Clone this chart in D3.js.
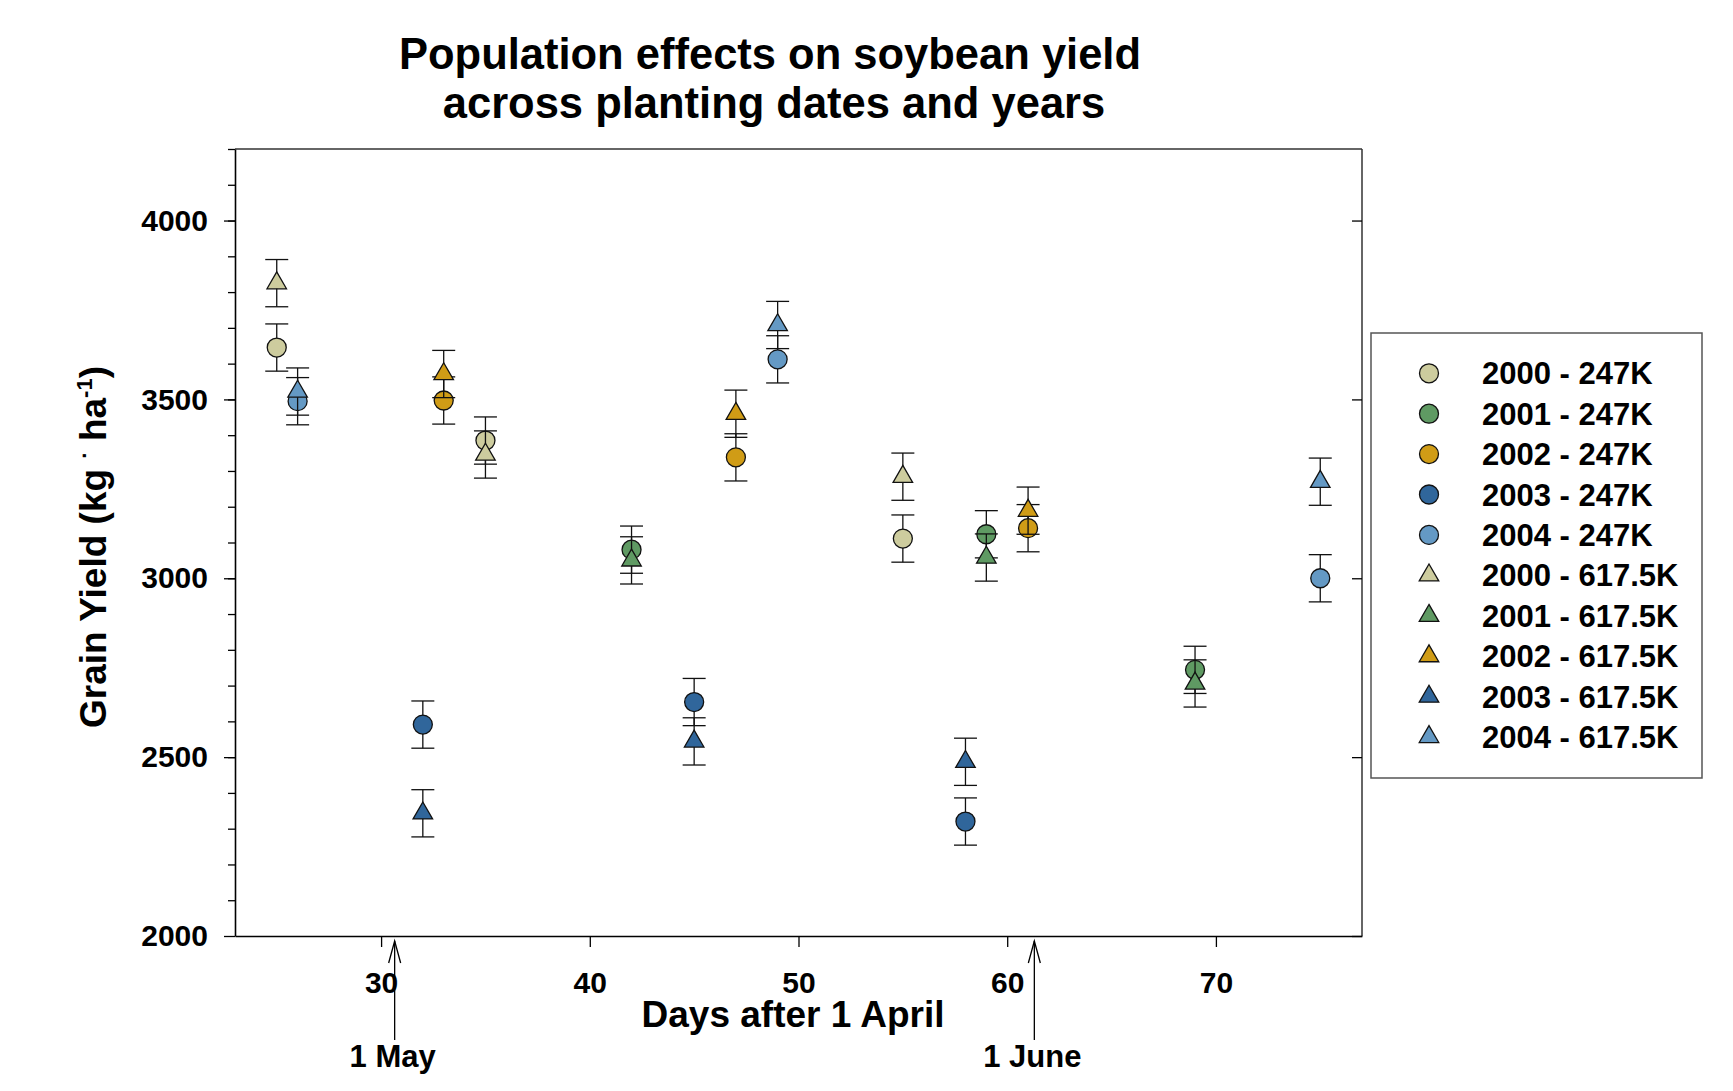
<!DOCTYPE html>
<html>
<head>
<meta charset="utf-8">
<script src="https://cdn.jsdelivr.net/npm/d3@7"></script>
<style>
  body { margin: 0; background: #fff; }
  svg text { font-family: "Liberation Sans", Arial, sans-serif; font-weight: bold; fill: #000; }
</style>
</head>
<body>
<div id="chart"></div>
<script>
// data
const years = ["2000", "2001", "2002", "2003", "2004"];
const populations = ["247K", "617.5K"];
const yearColors = ["#cdcc9e", "#5f9a63", "#d09c16", "#30669b", "#6499c4"];

// planting dates (days after 1 April) for each year
const plantDays = [
  [25, 35, 55],
  [42, 59, 69],
  [33, 47, 61],
  [32, 45, 58],
  [26, 49, 75]
];
// grain yield, kg/ha
const yield247 = [
  [3645, 3385, 3111],
  [3080, 3123, 2744],
  [3497, 3338, 3140],
  [2591, 2654, 2320],
  [3495, 3612, 3000]
];
const yield617 = [
  [3825, 3346, 3284],
  [3050, 3058, 2706],
  [3571, 3460, 3189],
  [2343, 2544, 2487],
  [3522, 3708, 3270]
];
const errHalf = 66;

const xTicks = [30, 40, 50, 60, 70];
const yTicks = [2000, 2500, 3000, 3500, 4000];
const dateMarks = [{ label: "1 May", day: 30.65 }, { label: "1 June", day: 61.3 }];

const W = 1733, H = 1091;
const pLeft = 235, pRight = 1362, pTop = 149, pBottom = 936;

const svg = d3.select("#chart").append("svg")
  .attr("width", W)
  .attr("height", H);

const x = d3.scaleLinear().domain([23, 77]).range([pLeft, pRight]);
const y = d3.scaleLinear().domain([2000, 4200]).range([pBottom, pTop]);

// title
svg.append("text").attr("x", 770).attr("y", 69).attr("text-anchor", "middle")
  .style("font-size", "43.5px").text("Population effects on soybean yield");
svg.append("text").attr("x", 774).attr("y", 118).attr("text-anchor", "middle")
  .style("font-size", "43.5px").text("across planting dates and years");

// frame (top, right)
svg.append("line").attr("x1", pLeft).attr("x2", pRight).attr("y1", pTop).attr("y2", pTop)
  .attr("stroke", "#333").attr("stroke-width", 1.5);
svg.append("line").attr("x1", pRight).attr("x2", pRight).attr("y1", pTop).attr("y2", pBottom)
  .attr("stroke", "#333").attr("stroke-width", 1.5);

// left axis, minor ticks
svg.append("g").attr("transform", `translate(${pLeft},0)`)
  .call(d3.axisLeft(y).tickValues(d3.range(2100, 4201, 100)).tickSize(7).tickFormat(""))
  .call(g => g.select(".domain").remove());

// left axis, major
const yAxis = svg.append("g").attr("transform", `translate(${pLeft},0)`)
  .call(d3.axisLeft(y).tickValues(yTicks).tickSize(11).tickPadding(16).tickSizeOuter(0)
    .tickFormat(d3.format("d")));
yAxis.selectAll("text").style("font-size", "30px").attr("fill", "#000");

// right axis ticks pointing in
svg.append("g").attr("transform", `translate(${pRight},0)`)
  .call(d3.axisLeft(y).tickValues(yTicks).tickSize(10).tickFormat(""))
  .call(g => g.select(".domain").remove());

// bottom axis
const xAxis = svg.append("g").attr("transform", `translate(0,${pBottom})`)
  .call(d3.axisBottom(x).tickValues(xTicks).tickSize(11).tickPadding(25).tickSizeOuter(0));
xAxis.selectAll("text").style("font-size", "30px").attr("fill", "#000");

svg.selectAll(".domain").attr("stroke", "#000").attr("stroke-width", 1.6);
svg.selectAll(".tick line").attr("stroke", "#000").attr("stroke-width", 1.3);

// axis titles
svg.append("text").attr("x", 793).attr("y", 1027).attr("text-anchor", "middle")
  .style("font-size", "37px").text("Days after 1 April");

const yt = svg.append("text")
  .attr("transform", "translate(106,547) rotate(-90)")
  .attr("text-anchor", "middle")
  .style("font-size", "37px");
yt.append("tspan").text("Grain Yield (kg ");
yt.append("tspan").attr("dy", -14).style("font-size", "22px").text("·");
yt.append("tspan").attr("dy", 14).text(" ha");
yt.append("tspan").attr("dy", -14).style("font-size", "22px").text("-1");
yt.append("tspan").attr("dy", 14).text(")");

// date arrows
const marks = svg.append("g").selectAll("g").data(dateMarks).join("g")
  .attr("transform", d => `translate(${x(d.day)},0)`);
marks.append("line").attr("x1", 0).attr("x2", 0).attr("y1", 941).attr("y2", 1040)
  .attr("stroke", "#000").attr("stroke-width", 1.3);
marks.append("path").attr("d", "M-6,963L0,941L6,963")
  .attr("fill", "none").attr("stroke", "#000").attr("stroke-width", 1.3);
marks.append("text").attr("x", -2).attr("y", 1067).attr("text-anchor", "middle")
  .style("font-size", "31px").text(d => d.label);

// series
const triangle = d3.symbol(d3.symbolTriangle, 165);
const series = [];
populations.forEach((pop, p) => {
  years.forEach((yr, i) => {
    const vals = p === 0 ? yield247[i] : yield617[i];
    series.push({
      name: `${yr} - ${pop}`,
      color: yearColors[i],
      shape: p === 0 ? "circle" : "triangle",
      points: plantDays[i].map((d, j) => ({ day: d, value: vals[j] }))
    });
  });
});

const plot = svg.append("g");
series.forEach(s => {
  const g = plot.append("g");
  const eb = g.selectAll("g.eb").data(s.points).join("g").attr("class", "eb");
  eb.append("line")
    .attr("x1", d => x(d.day)).attr("x2", d => x(d.day))
    .attr("y1", d => y(d.value - errHalf)).attr("y2", d => y(d.value + errHalf))
    .attr("stroke", "#111").attr("stroke-width", 1.3);
  [-errHalf, errHalf].forEach(e => {
    eb.append("line")
      .attr("x1", d => x(d.day) - 11.5).attr("x2", d => x(d.day) + 11.5)
      .attr("y1", d => y(d.value + e)).attr("y2", d => y(d.value + e))
      .attr("stroke", "#111").attr("stroke-width", 1.3);
  });
  if (s.shape === "circle") {
    g.selectAll("circle").data(s.points).join("circle")
      .attr("cx", d => x(d.day)).attr("cy", d => y(d.value)).attr("r", 9.5)
      .attr("fill", s.color).attr("stroke", "#111").attr("stroke-width", 1.3);
  } else {
    g.selectAll("path").data(s.points).join("path")
      .attr("d", triangle)
      .attr("transform", d => `translate(${x(d.day)},${y(d.value)})`)
      .attr("fill", s.color).attr("stroke", "#111").attr("stroke-width", 1.3);
  }
});

// legend
const legend = svg.append("g");
legend.append("rect").attr("x", 1371).attr("y", 333).attr("width", 331).attr("height", 445)
  .attr("fill", "#fff").attr("stroke", "#555").attr("stroke-width", 1.5);
const items = legend.selectAll("g.item").data(series).join("g").attr("class", "item")
  .attr("transform", (d, i) => `translate(0,${373.3 + i * 40.4})`);
items.each(function (d) {
  const it = d3.select(this);
  if (d.shape === "circle") {
    it.append("circle").attr("cx", 1429).attr("cy", 0).attr("r", 9.5)
      .attr("fill", d.color).attr("stroke", "#111").attr("stroke-width", 1.3);
  } else {
    it.append("path").attr("d", triangle).attr("transform", "translate(1429,0)")
      .attr("fill", d.color).attr("stroke", "#111").attr("stroke-width", 1.3);
  }
});
items.append("text").attr("x", 1482).attr("y", 11)
  .style("font-size", "31px").text(d => d.name);
</script>
</body>
</html>
